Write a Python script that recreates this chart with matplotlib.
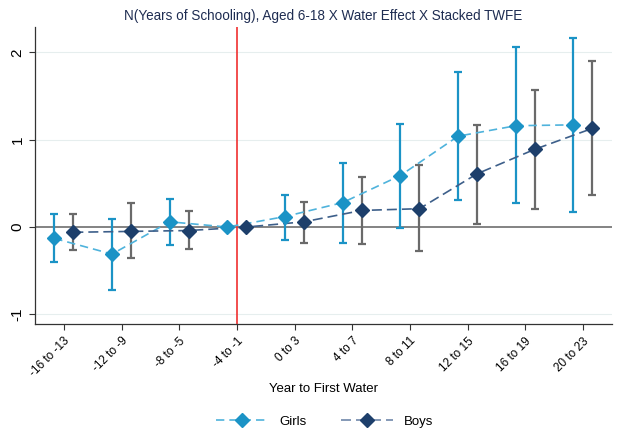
import numpy as np
import matplotlib.pyplot as plt
from matplotlib.lines import Line2D

plt.rcParams['font.family'] = ['Liberation Sans', 'DejaVu Sans']

# Event-time bins
periods = ['-16 to -13', '-12 to -9', '-8 to -5', '-4 to -1', '0 to 3',
           '4 to 7', '8 to 11', '12 to 15', '16 to 19', '20 to 23']

# Girls: point estimates and 95% CI
girls_coef = [-0.13, -0.31, 0.06, 0.0, 0.12, 0.28, 0.59, 1.04, 1.16, 1.17]
girls_lo = [-0.40, -0.72, -0.20, np.nan, -0.15, -0.18, -0.01, 0.31, 0.27, 0.17]
girls_hi = [0.15, 0.09, 0.32, np.nan, 0.37, 0.73, 1.18, 1.78, 2.06, 2.17]

# Boys: point estimates and 95% CI
boys_coef = [-0.06, -0.05, -0.04, 0.0, 0.06, 0.19, 0.21, 0.61, 0.89, 1.13]
boys_lo = [-0.26, -0.35, -0.25, np.nan, -0.18, -0.19, -0.27, 0.03, 0.21, 0.37]
boys_hi = [0.15, 0.27, 0.18, np.nan, 0.29, 0.57, 0.71, 1.17, 1.57, 1.90]

girls_col = '#1b93c6'
girls_line = '#4fb3dc'
boys_col = '#1d3f6b'
boys_line = '#3d5f8a'
boys_ci = '#6a6a6a'

fig = plt.figure(figsize=(6.18, 4.29), dpi=100)
ax = fig.add_axes([0.0566, 0.2448, 0.9334, 0.6922])

x = np.arange(len(periods))
off = 0.165
xg = x - off
xb = x + off

# reference lines
for yv in [-1, 1, 2]:
    ax.axhline(yv, color='#e6eeee', lw=0.8, zorder=0)
ax.axhline(0, color='#7a7a7a', lw=1.3, zorder=1)
ax.axvline(3, color='#f03030', lw=1.2, zorder=1)

def draw(xs, coef, lo, hi, ecol, lcol, mcol, dash):
    lo = np.array(lo)
    hi = np.array(hi)
    coef = np.array(coef)
    ok = ~np.isnan(lo)
    ax.errorbar(xs[ok], coef[ok], yerr=[coef[ok] - lo[ok], hi[ok] - coef[ok]],
                fmt='none', ecolor=ecol, elinewidth=1.6, capsize=3, capthick=1.6, zorder=2)
    ax.plot(xs, coef, color=lcol, lw=1.2, ls=(0, dash), zorder=3)
    ax.plot(xs, coef, ls='none', marker='D', ms=7.5, color=mcol, zorder=4)

draw(xg, girls_coef, girls_lo, girls_hi, girls_col, girls_line, girls_col, (5, 3))
draw(xb, boys_coef, boys_lo, boys_hi, boys_ci, boys_line, boys_col, (6, 3))

ax.set_xlim(-0.5, 9.5)
ax.set_ylim(-1.11, 2.29)
ax.set_yticks([-1, 0, 1, 2])
ax.set_yticklabels(['-1', '0', '1', '2'], rotation=90, va='center', fontsize=11)
ax.set_xticks(x)
ax.set_xticklabels(periods, rotation=45, ha='right', rotation_mode='anchor', fontsize=8.5)
ax.tick_params(axis='both', length=4.5, width=0.8, color='#333333')
ax.tick_params(axis='y', pad=3)
ax.spines['top'].set_visible(False)
ax.spines['right'].set_visible(False)
for s in ['left', 'bottom']:
    ax.spines[s].set_color('#333333')
    ax.spines[s].set_linewidth(0.9)

ax.set_xlabel('Year to First Water', fontsize=9.5, labelpad=3)
ax.set_title('N(Years of Schooling), Aged 6-18 X Water Effect X Stacked TWFE',
             fontsize=9.75, color='#1f2d52', pad=5)

handles = [
    Line2D([], [], color=girls_line, ls=(0, (5, 3)), lw=1.2, marker='D', ms=7.5,
           markerfacecolor=girls_col, markeredgecolor=girls_col),
    Line2D([], [], color='#6f88aa', ls=(0, (6, 3)), lw=1.2, marker='D', ms=7.5,
           markerfacecolor=boys_col, markeredgecolor=boys_col),
]
fig.legend(handles, ['Girls', 'Boys'], loc='center', bbox_to_anchor=(0.525, 0.017),
           ncol=2, frameon=False, fontsize=9.5, handlelength=4.0, columnspacing=2.6)

fig.savefig('out.png', dpi=100)
